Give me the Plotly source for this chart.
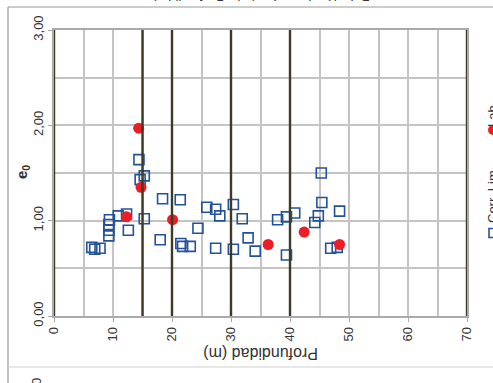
import plotly.graph_objects as go

# ---- data ----
corr_x = [6.4, 6.9, 7.8, 9.4, 9.3, 9.3, 9.3, 10.9, 12.3, 12.6, 14.4, 15.3, 14.6, 15.3,
          18.4, 18.0, 21.4, 21.5, 21.8, 23.1, 24.4, 25.9, 27.4, 28.1, 27.4, 30.4, 30.4,
          31.9, 32.9, 34.1, 37.9, 39.4, 40.8, 39.4, 44.2, 44.8, 45.4, 45.3, 48.4, 46.9, 48.0]
corr_y = [0.72, 0.70, 0.71, 1.01, 0.96, 0.90, 0.84, 1.05, 1.07, 0.90, 1.64, 1.47, 1.43, 1.02,
          1.23, 0.80, 1.22, 0.76, 0.73, 0.73, 0.92, 1.14, 1.12, 1.05, 0.71, 1.17, 0.70,
          1.02, 0.82, 0.68, 1.01, 1.04, 1.08, 0.64, 0.98, 1.05, 1.19, 1.50, 1.10, 0.71, 0.72]
lab_x = [14.35, 14.75, 12.3, 20.1, 36.3, 42.4, 48.4]
lab_y = [1.97, 1.35, 1.04, 1.01, 0.75, 0.88, 0.75]
layer_bounds = [0, 15, 20, 30, 40, 70]
x_ticks = [0, 10, 20, 30, 40, 50, 60, 70]
y_ticks = [0, 1, 2, 3]

W, H = 493, 383
L, R, T, B = 54, 467, 30, 316

def px(x):
    return (x - L) / (R - L)

def py(y):
    return (B - y) / (B - T)

fig = go.Figure()
fig.add_trace(go.Scatter(x=corr_x, y=corr_y, mode="markers", name="Corr. Lim",
                         marker=dict(symbol="square-open", size=10, color="#24519b",
                                     line=dict(width=1.6, color="#24519b"))))
fig.add_trace(go.Scatter(x=lab_x, y=lab_y, mode="markers", name="Lab",
                         marker=dict(symbol="circle", size=11, color="#ee1c25")))

shapes = []
for xb in layer_bounds:
    shapes.append(dict(type="line", xref="x", yref="paper", x0=xb, x1=xb, y0=0, y1=1,
                       line=dict(color="#3d3b26", width=2.4), layer="above"))
# outer frame of the cropped picture
shapes.append(dict(type="line", xref="paper", yref="paper", x0=px(8), x1=px(8),
                   y0=py(7), y1=py(383), line=dict(color="#999999", width=1.2)))
shapes.append(dict(type="line", xref="paper", yref="paper", x0=px(8), x1=px(493),
                   y0=py(7), y1=py(7), line=dict(color="#999999", width=1.2)))
shapes.append(dict(type="line", xref="paper", yref="paper", x0=px(8), x1=px(493),
                   y0=py(367), y1=py(367), line=dict(color="#cfcfcf", width=1.2)))
# legend symbols
shapes.append(dict(type="circle", xref="paper", yref="paper", x0=px(488), x1=px(498),
                   y0=py(135), y1=py(125), fillcolor="#ee1c25", line=dict(width=0)))
shapes.append(dict(type="rect", xref="paper", yref="paper", x0=px(489), x1=px(498),
                   y0=py(237.5), y1=py(228.5), fillcolor="rgba(0,0,0,0)",
                   line=dict(color="#24519b", width=1.6)))

txt = "#333333"
annotations = [
    dict(text="Profundidad (m)", x=px(261), y=py(354), xref="paper", yref="paper",
         showarrow=False, textangle=180, font=dict(size=16, color=txt, family="Arial"),
         xanchor="center", yanchor="middle"),
    dict(text="<b>e</b><sub><b>0</b></sub>", x=px(22), y=py(172), xref="paper", yref="paper",
         showarrow=False, textangle=-90, font=dict(size=15, color=txt, family="Arial"),
         xanchor="center", yanchor="middle"),
    dict(text="Lab", x=px(492), y=py(116), xref="paper", yref="paper",
         showarrow=False, textangle=-90, font=dict(size=13, color=txt, family="Arial"),
         xanchor="center", yanchor="middle"),
    dict(text="Corr. Lim", x=px(492), y=py(197), xref="paper", yref="paper",
         showarrow=False, textangle=-90, font=dict(size=13, color=txt, family="Arial"),
         xanchor="center", yanchor="middle"),
    dict(text="3,00", x=px(36), y=py(391), xref="paper", yref="paper",
         showarrow=False, textangle=-90, font=dict(size=13, color=txt, family="Arial"),
         xanchor="center", yanchor="middle"),
    dict(text="Relación de vacíos (e<sub>0</sub>) - Profundidad", x=px(262), y=py(-4.5),
         xref="paper", yref="paper", showarrow=False, textangle=180,
         font=dict(size=13, color=txt, family="Arial"), xanchor="center", yanchor="middle"),
]

grid = "#c4c4c4"
fig.update_layout(
    width=W, height=H,
    margin=dict(l=L, r=W - R, t=T, b=H - B),
    paper_bgcolor="white", plot_bgcolor="white",
    showlegend=False,
    separators=", ",
    font=dict(family="Arial", size=13, color=txt),
    shapes=shapes, annotations=annotations,
    xaxis=dict(range=[0, 70], tickvals=x_ticks, tickangle=-90, showgrid=True,
               gridcolor=grid, gridwidth=1.5, zeroline=False,
               minor=dict(dtick=5, showgrid=True, gridcolor=grid, gridwidth=1.5),
               showline=True, linecolor="#aaaaaa", linewidth=1.5, mirror=True,
               ticks="outside", ticklen=4, tickcolor="#aaaaaa",
               tickfont=dict(size=13, color=txt)),
    yaxis=dict(range=[0, 3], tickvals=y_ticks, tickformat=".2f", tickangle=-90,
               showgrid=True, gridcolor=grid, gridwidth=1.5, zeroline=False,
               minor=dict(dtick=0.5, showgrid=True, gridcolor=grid, gridwidth=1.5),
               showline=True, linecolor="#aaaaaa", linewidth=1.5, mirror=True,
               ticks="outside", ticklen=4, tickcolor="#aaaaaa",
               tickfont=dict(size=13, color=txt)),
)

fig.write_html("out.html")
